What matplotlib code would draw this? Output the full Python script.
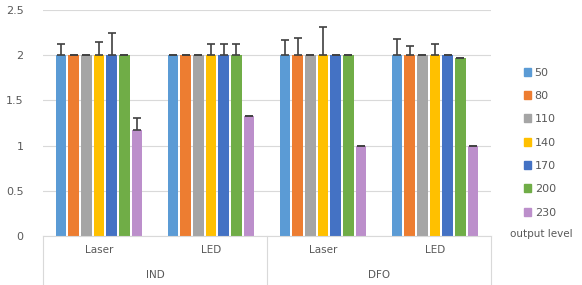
import numpy as np
import matplotlib.pyplot as plt
from matplotlib.patches import Patch

# data
groups = ['IND', 'DFO']
subgroups = ['Laser', 'LED', 'Laser', 'LED']
levels = ['50', '80', '110', '140', '170', '200', '230']
colors = ['#5B9BD5', '#ED7D31', '#A5A5A5', '#FFC000', '#4472C4', '#70AD47', '#BC8FCB']

# values per output level, across IND-Laser, IND-LED, DFO-Laser, DFO-LED
vals = [
    [2, 2, 2, 2],
    [2, 2, 2, 2],
    [2, 2, 2, 2],
    [2, 2, 2, 2],
    [2, 2, 2, 2],
    [2, 2, 2, 1.97],
    [1.17, 1.33, 1.0, 1.0],
]
errs = [
    [0.12, 0, 0.17, 0.18],
    [0, 0, 0.19, 0.10],
    [0, 0, 0, 0],
    [0.15, 0.12, 0.31, 0.12],
    [0.25, 0.12, 0, 0],
    [0, 0.12, 0, 0],
    [0.13, 0, 0, 0],
]

txt = '#595959'
plt.rcParams['font.family'] = 'DejaVu Sans'

fig = plt.figure(figsize=(5.82, 2.85), dpi=100)
ax = fig.add_axes([43/582, 1-236/285, 448/582, 226/285])

x = np.arange(len(subgroups))
slot = 0.113
w = 0.094
for i, lv in enumerate(levels):
    pos = x + (i - 3) * slot
    ax.bar(pos, vals[i], w, color=colors[i], zorder=2)
    ax.errorbar(pos, vals[i], yerr=[np.zeros(4), errs[i]], fmt='none',
                ecolor='#404040', elinewidth=1.2, capsize=3, capthick=1.2, zorder=3)

ax.set_xlim(-0.5, 3.5)
ax.set_ylim(0, 2.5)
ax.set_yticks([0, 0.5, 1, 1.5, 2, 2.5])
ax.set_yticklabels(['0', '0.5', '1', '1.5', '2', '2.5'])
ax.yaxis.grid(True, color='#D9D9D9', linewidth=0.8, zorder=0)
ax.set_axisbelow(True)
for s in ['top', 'right', 'left']:
    ax.spines[s].set_visible(False)
ax.spines['bottom'].set_color('#D9D9D9')
ax.tick_params(axis='y', length=0, labelsize=8, colors=txt, pad=14)
ax.set_xticks([])

# two level category labels
for xi, lab in zip(x, subgroups):
    ax.text(xi, -0.155, lab, ha='center', va='center', fontsize=7.5, color=txt)
for gi, g in enumerate(groups):
    ax.text(2*gi + 0.5, -0.435, g, ha='center', va='center', fontsize=7.5, color=txt)
for xs in [-0.5, 1.5, 3.5]:
    ax.plot([xs, xs], [0, -0.6], color='#D9D9D9', lw=0.8, clip_on=False)

handles = [Patch(color=c) for c in colors]
fig.legend(handles, levels, loc='upper left', bbox_to_anchor=(518/582, 1-62/285),
           frameon=False, fontsize=8, labelcolor=txt, handlelength=0.7,
           handleheight=0.7, handletextpad=0.3, labelspacing=1.2, borderpad=0)
fig.text(510/582, 1-234/285, 'output level', fontsize=7.5, color=txt, va='center')

fig.savefig('out.png', dpi=100)
